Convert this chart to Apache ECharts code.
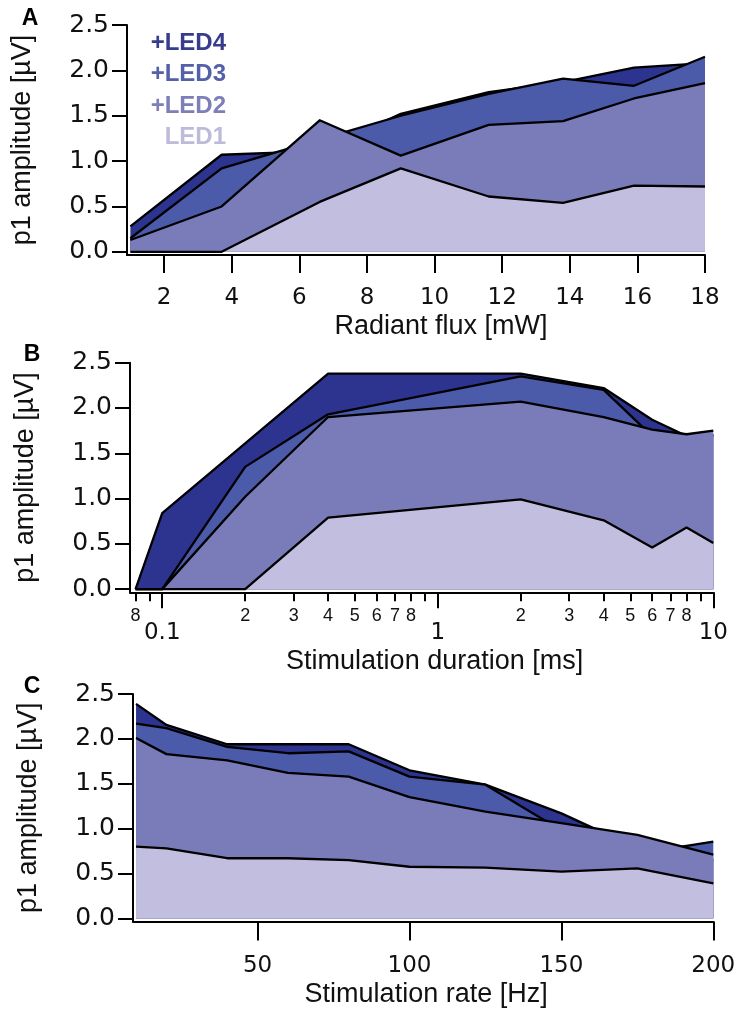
<!DOCTYPE html>
<html><head><meta charset="utf-8">
<script src="https://cdn.jsdelivr.net/npm/echarts@6/dist/echarts.min.js"></script>
<style>html,body{margin:0;padding:0;background:#fff}#chart{width:741px;height:1012px}</style>
</head><body><div id="chart"></div>
<script>
// ---------- data ----------
const seriesNames = ['+LED4', '+LED3', '+LED2', 'LED1'];
const seriesColors = ['#2d3490', '#4b5aa9', '#7a7cba', '#c1bedf'];
const legendColors = ['#383c8c', '#5461a9', '#7c7fb8', '#bdbbd9'];

// Panel A: radiant flux [mW]
const fluxA = [1.0, 3.7, 6.6, 9.0, 11.6, 13.8, 15.9, 18.0];
const aLED4 = [0.28, 1.07, 1.11, 1.52, 1.76, 1.87, 2.03, 2.08];
const aLED3 = [0.15, 0.92, 1.24, 1.50, 1.74, 1.91, 1.83, 2.15];
const aLED2 = [0.13, 0.50, 1.45, 1.06, 1.40, 1.44, 1.69, 1.86];
const aLED1 = [0.00, 0.00, 0.55, 0.92, 0.61, 0.54, 0.73, 0.72];

// Panel B: stimulation duration [ms] (log axis)
const durationB = [0.08, 0.1, 0.2, 0.4, 2, 4, 6, 8, 10];
const bLED4 = [0.00, 0.84, 1.61, 2.38, 2.38, 2.22, 1.87, 1.69, 1.70];
const bLED3 = [0.00, 0.00, 1.35, 1.93, 2.35, 2.20, 1.69, 1.65, 1.70];
const bLED2 = [0.00, 0.00, 1.02, 1.90, 2.07, 1.90, 1.76, 1.71, 1.75];
const bLED1 = [0.00, 0.00, 0.00, 0.79, 0.99, 0.76, 0.46, 0.68, 0.51];

// Panel C: stimulation rate [Hz]
const rateC = [10, 20, 40, 60, 80, 100, 125, 150, 175, 200];
const cLED4 = [2.39, 2.155, 1.94, 1.94, 1.94, 1.65, 1.49, 1.17, 0.78, 0.65];
const cLED3 = [2.17, 2.12, 1.91, 1.84, 1.86, 1.58, 1.49, 0.98, 0.72, 0.855];
const cLED2 = [2.01, 1.83, 1.76, 1.62, 1.58, 1.35, 1.19, 1.06, 0.93, 0.71];
const cLED1 = [0.80, 0.78, 0.67, 0.67, 0.65, 0.575, 0.565, 0.52, 0.557, 0.39];

// ticks
const yTicks = [0, 0.5, 1.0, 1.5, 2.0, 2.5];
const yTickLabels = ['0.0', '0.5', '1.0', '1.5', '2.0', '2.5'];
const xTicksA = [2, 4, 6, 8, 10, 12, 14, 16, 18];
const xTickLabelsA = ['2', '4', '6', '8', '10', '12', '14', '16', '18'];
const bMinorTicks = [0.08, 0.09, 0.2, 0.3, 0.4, 0.5, 0.6, 0.7, 0.8, 0.9, 2, 3, 4, 5, 6, 7, 8, 9];
const bMinorLabels = ['8', '', '2', '3', '4', '5', '6', '7', '8', '', '2', '3', '4', '5', '6', '7', '8', ''];
const bMajorTicks = [0.1, 1, 10];
const bMajorLabels = ['0.1', '1', '10'];
const xTicksC = [50, 100, 150, 200];
const xTickLabelsC = ['50', '100', '150', '200'];

const panelLetters = ['A', 'B', 'C'];
const yTitle = 'p1 amplitude [µV]';
const xTitles = ['Radiant flux [mW]', 'Stimulation duration [ms]', 'Stimulation rate [Hz]'];

// ---------- helpers ----------
const FONT = 'Liberation Sans, Arial, sans-serif';
const TICKFONT = 'DejaVu Sans, sans-serif';
const lookup = (ticks, labels) => (v) => {
  for (let i = 0; i < ticks.length; i++) if (Math.abs(ticks[i] - v) < 1e-6) return labels[i];
  return '';
};
const log10 = (v) => Math.log10(v);

const grids = [
  { left: 127, top: 25, width: 578, height: 230 },
  { left: 130, top: 362.7, width: 583.3, height: 229.6 },
  { left: 133, top: 694, width: 580.3, height: 227.5 }
];
grids.forEach(g => { g.outerBoundsMode = 'none'; g.containLabel = false; });

const axisLineStyle = { show: true, onZero: false, lineStyle: { color: '#000', width: 2 } };
const tickStyle = (len) => ({ show: true, length: len, lineStyle: { color: '#000', width: 2 } });
const labelBase = { color: '#111' };

const yAxes = [0, 1, 2].map(i => ({
  type: 'value', gridIndex: i, min: -0.035, max: 2.5,
  splitLine: { show: false },
  axisLine: axisLineStyle,
  axisTick: { ...tickStyle(15), customValues: yTicks },
  axisLabel: { ...labelBase, fontFamily: TICKFONT, fontSize: 25, margin: 18, customValues: yTicks,
               formatter: lookup(yTicks, yTickLabels) },
  name: yTitle, nameLocation: 'middle', nameGap: 91, nameRotate: 90,
  nameTextStyle: { color: '#111', fontSize: 27, fontFamily: FONT }
}));

const xAxes = [
  { type: 'value', gridIndex: 0, min: 0.9, max: 18,
    splitLine: { show: false }, axisLine: axisLineStyle,
    axisTick: { ...tickStyle(18), customValues: xTicksA },
    axisLabel: { ...labelBase, fontFamily: TICKFONT, fontSize: 23, margin: 32, customValues: xTicksA,
                 formatter: lookup(xTicksA, xTickLabelsA) },
    name: xTitles[0], nameLocation: 'middle', nameGap: 58,
    nameTextStyle: { color: '#111', fontSize: 27, fontFamily: FONT, padding: [0, 0, 0, 50] } },
  { type: 'value', gridIndex: 1, min: -1.117, max: 1, position: 'bottom',
    splitLine: { show: false }, axisLine: axisLineStyle,
    axisTick: { ...tickStyle(9), customValues: bMinorTicks.map(log10) },
    axisLabel: { ...labelBase, fontFamily: FONT, fontSize: 18, margin: 15, customValues: bMinorTicks.map(log10),
                 formatter: lookup(bMinorTicks.map(log10), bMinorLabels) },
    name: xTitles[1], nameLocation: 'middle', nameGap: 56,
    nameTextStyle: { color: '#111', fontSize: 27, fontFamily: FONT, padding: [0, 0, 0, 26] } },
  { type: 'value', gridIndex: 1, min: -1.117, max: 1, position: 'bottom', offset: 0,
    splitLine: { show: false }, axisLine: { show: false, onZero: false },
    axisTick: { ...tickStyle(16), customValues: bMajorTicks.map(log10) },
    axisLabel: { ...labelBase, fontFamily: TICKFONT, fontSize: 23, margin: 29, customValues: bMajorTicks.map(log10),
                 formatter: lookup(bMajorTicks.map(log10), bMajorLabels) } },
  { type: 'value', gridIndex: 2, min: 9.0, max: 200,
    splitLine: { show: false }, axisLine: axisLineStyle,
    axisTick: { ...tickStyle(19), customValues: xTicksC },
    axisLabel: { ...labelBase, fontFamily: TICKFONT, fontSize: 23, margin: 33, customValues: xTicksC,
                 formatter: lookup(xTicksC, xTickLabelsC) },
    name: xTitles[2], nameLocation: 'middle', nameGap: 60,
    nameTextStyle: { color: '#111', fontSize: 27, fontFamily: FONT, padding: [0, 0, 0, 6] } }
];

const panels = [
  { x: fluxA, vals: [aLED4, aLED3, aLED2, aLED1], xAxisIndex: 0, yAxisIndex: 0, tx: v => v },
  { x: durationB, vals: [bLED4, bLED3, bLED2, bLED1], xAxisIndex: 1, yAxisIndex: 1, tx: log10 },
  { x: rateC, vals: [cLED4, cLED3, cLED2, cLED1], xAxisIndex: 3, yAxisIndex: 2, tx: v => v }
];

const series = [];
panels.forEach(p => {
  p.vals.forEach((vals, i) => {
    series.push({
      type: 'line', name: seriesNames[i],
      xAxisIndex: p.xAxisIndex, yAxisIndex: p.yAxisIndex,
      z: 2 + i,
      data: p.x.map((xv, j) => [p.tx(xv), vals[j]]),
      symbol: 'none', smooth: false, silent: true,
      lineStyle: { color: '#000', width: 2.3, join: 'round' },
      itemStyle: { color: seriesColors[i] },
      areaStyle: { color: seriesColors[i], opacity: 1 },
      emphasis: { disabled: true }
    });
  });
});

const graphic = [];
const legendY = [43, 74, 106, 137];
seriesNames.forEach((n, i) => {
  graphic.push({ type: 'text', x: 226, y: legendY[i], z: 20,
    style: { text: n, fill: legendColors[i], font: 'bold 24px ' + FONT, textAlign: 'right', textVerticalAlign: 'middle' } });
});
const letterPos = [[30, 19], [32, 355], [32, 687]];
panelLetters.forEach((L, i) => {
  graphic.push({ type: 'text', x: letterPos[i][0], y: letterPos[i][1],
    style: { text: L, fill: '#000', font: 'bold 23px ' + FONT, textAlign: 'center', textVerticalAlign: 'middle' } });
});

const chart = echarts.init(document.getElementById('chart'), null, { renderer: 'canvas' });
chart.setOption({
  animation: false,
  backgroundColor: '#fff',
  grid: grids,
  xAxis: xAxes,
  yAxis: yAxes,
  series: series,
  graphic: graphic
});
</script></body></html>
